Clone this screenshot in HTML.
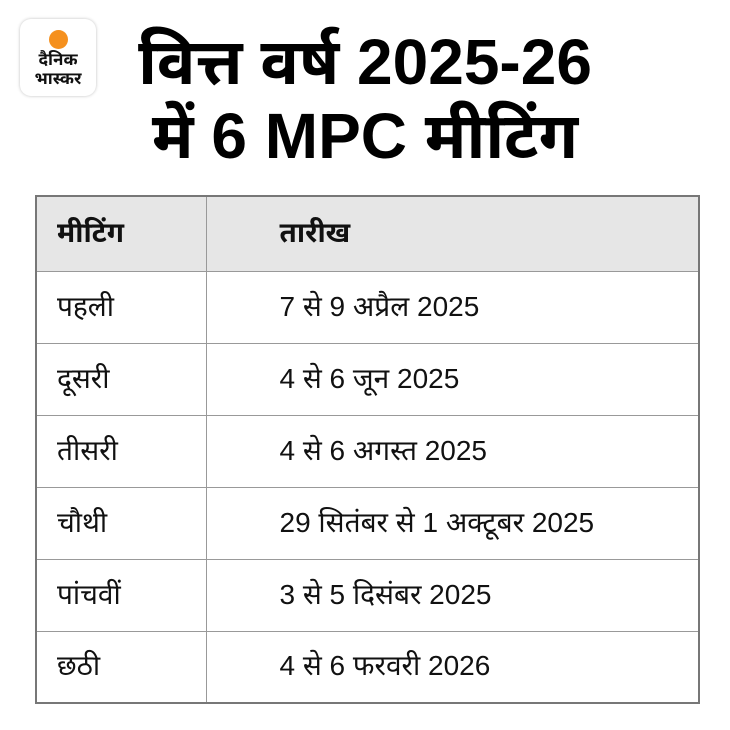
<!DOCTYPE html>
<html><head><meta charset="utf-8"><style>
body{margin:0;width:730px;height:730px;background:#fff;font-family:"Liberation Sans","Noto Sans Devanagari","Lohit Devanagari",sans-serif;color:#111;position:relative;overflow:hidden}
.logo{position:absolute;left:20px;top:19px;width:76px;height:77px;border-radius:11px;background:#fff;box-shadow:0 0 3px rgba(0,0,0,.25)}
.dot{position:absolute;left:49px;top:30px;width:19px;height:19px;border-radius:50%;background:#f5901e}
.lt{position:absolute;left:20px;width:76px;text-align:center;font-weight:bold;font-size:17px;line-height:18px;color:#111}
.title{position:absolute;left:80px;width:570px;text-align:center;font-weight:bold;font-size:64px;line-height:74px;top:25px;color:#000}
table{position:absolute;left:35px;top:195px;width:665px;border-collapse:collapse;border:2px solid #777}
td{border:1px solid #999;font-size:28px;padding:4px 0 0 20px;height:72px;box-sizing:border-box}
tr.h td{background:#e6e6e6;font-weight:bold;height:75px;border-bottom:none}
td.c2{padding-left:73px}
tr td:first-child{width:170px}
</style></head><body>
<div class="logo"></div><div class="dot"></div>
<div class="lt" style="top:51px">दैनिक</div>
<div class="lt" style="top:70px">भास्कर</div>
<div class="title">वित्त वर्ष 2025-26<br>में 6 MPC मीटिंग</div>
<table>
<tr class="h"><td>मीटिंग</td><td class="c2">तारीख</td></tr>
<tr><td>पहली</td><td class="c2">7 से 9 अप्रैल 2025</td></tr>
<tr><td>दूसरी</td><td class="c2">4 से 6 जून 2025</td></tr>
<tr><td>तीसरी</td><td class="c2">4 से 6 अगस्त 2025</td></tr>
<tr><td>चौथी</td><td class="c2">29 सितंबर से 1 अक्टूबर 2025</td></tr>
<tr><td>पांचवीं</td><td class="c2">3 से 5 दिसंबर 2025</td></tr>
<tr><td>छठी</td><td class="c2">4 से 6 फरवरी 2026</td></tr>
</table>
</body></html>
